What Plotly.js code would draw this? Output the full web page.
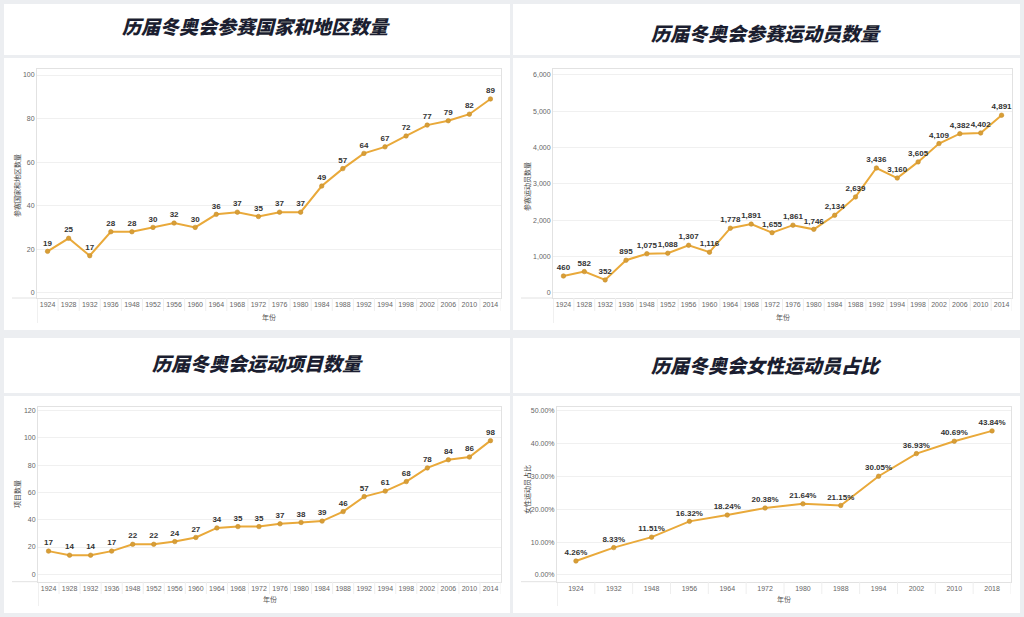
<!DOCTYPE html>
<html><head><meta charset="utf-8">
<script src="https://cdn.plot.ly/plotly-3.0.1.min.js"></script>
<style>html,body{margin:0;padding:0;background:#eceef1;}#chart{width:1024px;height:617px;}</style>
</head><body><div id="chart"></div>
<script>
// ---- data ----
const years22 = ["1924","1928","1932","1936","1948","1952","1956","1960","1964","1968","1972","1976","1980","1984","1988","1992","1994","1998","2002","2006","2010","2014"];
const nations = [19,25,17,28,28,30,32,30,36,37,35,37,37,49,57,64,67,72,77,79,82,89];
const athletes = [460,582,352,895,1075,1088,1307,1116,1778,1891,1655,1861,1746,2134,2639,3436,3160,3605,4109,4382,4402,4891];
const events = [17,14,14,17,22,22,24,27,34,35,35,37,38,39,46,57,61,68,78,84,86,98];
const years12 = ["1924","1932","1948","1956","1964","1972","1980","1988","1994","2002","2010","2018"];
const womenPct = [4.26,8.33,11.51,16.32,18.24,20.38,21.64,21.15,30.05,36.93,40.69,43.84];
const titles = ["历届冬奥会参赛国家和地区数量","历届冬奥会参赛运动员数量","历届冬奥会运动项目数量","历届冬奥会女性运动员占比"];
const yTitles = ["参赛国家和地区数量","参赛运动员数量","项目数量","女性运动员占比"];
const xTitle = "年份";

// ---- layout helpers ----
const W=1024,H=617;
const X=p=>p/W, Y=p=>1-p/H;
const LINE='#e9a93a', MARK='#d89e36';
const panels = [
  {cats:years22, vals:nations, txt:nations.map(v=>String(v)), xd:[37,501], yt:69, yb:298, rng:[-2.43,102.76], dtick:20, fmt:'', suf:'',
   box:[4,510,58,330], tbox:[4,510,4,55], tx:256, ty:25, ytx:17, yty:186, xty:317, hdrBot:311, vBot:323},
  {cats:years22, vals:athletes, txt:athletes.map(v=>v.toLocaleString('en-US')), xd:[553,1012], yt:69, yb:298, rng:[-146,6165], dtick:1000, fmt:',d', suf:'',
   box:[513,1020,58,330], tbox:[513,1020,4,55], tx:766, ty:32, ytx:527, yty:187, xty:317, hdrBot:311, vBot:323},
  {cats:years22, vals:events, txt:events.map(v=>String(v)), xd:[38,501], yt:406.7, yb:581.7, rng:[-5.43,122.9], dtick:20, fmt:'', suf:'',
   box:[4,510,396,613], tbox:[4,510,338,393], tx:257, ty:362, ytx:17, yty:494, xty:599, hdrBot:594, vBot:606},
  {cats:years12, vals:womenPct, txt:womenPct.map(v=>v.toFixed(2)+'%'), xd:[557,1011], yt:406.7, yb:581.7, rng:[-2.04,51.2], dtick:10, fmt:'.2f', suf:'%',
   box:[513,1020,396,613], tbox:[513,1020,338,393], tx:766, ty:364, ytx:527, yty:490, xty:599, hdrBot:594, vBot:606}
];

const data=[], shapes=[], annotations=[];
const layout={width:W,height:H,margin:{l:0,r:0,t:0,b:0},paper_bgcolor:'#eceef1',plot_bgcolor:'rgba(0,0,0,0)',showlegend:false,
  font:{family:'"Noto Sans CJK SC", "Liberation Sans", sans-serif'}};

panels.forEach((p,i)=>{
  const k=i+1, xa='x'+(k===1?'':k), ya='y'+(k===1?'':k);
  shapes.push({type:'rect',xref:'paper',yref:'paper',layer:'below',x0:X(p.tbox[0]),x1:X(p.tbox[1]),y0:Y(p.tbox[3]),y1:Y(p.tbox[2]),fillcolor:'#ffffff',line:{width:0}});
  shapes.push({type:'rect',xref:'paper',yref:'paper',layer:'below',x0:X(p.box[0]),x1:X(p.box[1]),y0:Y(p.box[3]),y1:Y(p.box[2]),fillcolor:'#ffffff',line:{width:0}});
  for(let j=0;j<=p.cats.length;j++){
    shapes.push({type:'line',xref:xa,yref:'paper',x0:j-0.5,x1:j-0.5,y0:Y(p.yb),y1:Y(j===0?p.vBot:p.hdrBot),line:{color:j===0?'#e2e2e2':'#eeeeee',width:1}});
  }
  shapes.push({type:'line',xref:'paper',yref:'paper',x0:X(p.box[0]+8),x1:X(p.xd[0]),y0:Y(p.yb),y1:Y(p.yb),line:{color:'#e2e2e2',width:1}});
  data.push({type:'scatter',mode:'lines+markers+text',x:p.cats,y:p.vals,text:p.txt,textposition:'top center',
    textfont:{size:8,color:'#333333',family:'"Liberation Sans", Arial, sans-serif',weight:600},
    line:{color:LINE,width:2},marker:{size:4.5,color:MARK,line:{color:'#c98f2c',width:0.6}},
    xaxis:xa,yaxis:ya,cliponaxis:false,hoverinfo:'skip'});
  layout['xaxis'+(k===1?'':k)]={domain:[X(p.xd[0]),X(p.xd[1])],anchor:ya,type:'category',range:[-0.5,p.cats.length-0.5],
    showgrid:false,zeroline:false,showline:true,linecolor:'#e2e2e2',linewidth:1,mirror:true,ticks:'',ticklen:0,
    tickfont:{size:7,color:'#666666',family:'"Liberation Sans", Arial, sans-serif'},fixedrange:true};
  layout['yaxis'+(k===1?'':k)]={domain:[Y(p.yb),Y(p.yt)],anchor:xa,range:p.rng,dtick:p.dtick,tick0:0,tickformat:p.fmt,ticksuffix:p.suf,
    showgrid:true,gridcolor:'#f0f0f0',gridwidth:1,zeroline:false,showline:true,linecolor:'#e2e2e2',mirror:true,ticks:'',
    tickfont:{size:7,color:'#666666',family:'"Liberation Sans", Arial, sans-serif'},fixedrange:true};
  annotations.push({xref:'paper',yref:'paper',x:X(p.tx),y:Y(p.ty),text:titles[i],showarrow:false,xanchor:'center',yanchor:'middle',
    font:{size:19,color:'#1b1e30',family:'"Noto Sans CJK SC", sans-serif',weight:900,style:'italic'}});
  annotations.push({xref:'paper',yref:'paper',x:X(p.ytx),y:Y(p.yty),text:yTitles[i],showarrow:false,textangle:-90,xanchor:'center',yanchor:'middle',
    font:{size:7,color:'#444444',family:'"Noto Sans CJK SC", sans-serif'}});
  annotations.push({xref:'paper',yref:'paper',x:X((p.xd[0]+p.xd[1])/2),y:Y(p.xty),text:xTitle,showarrow:false,xanchor:'center',yanchor:'middle',
    font:{size:7,color:'#555555',family:'"Noto Sans CJK SC", sans-serif'}});
});
layout.shapes=shapes; layout.annotations=annotations;
Plotly.newPlot('chart',data,layout,{displayModeBar:false,staticPlot:true});
</script></body></html>
